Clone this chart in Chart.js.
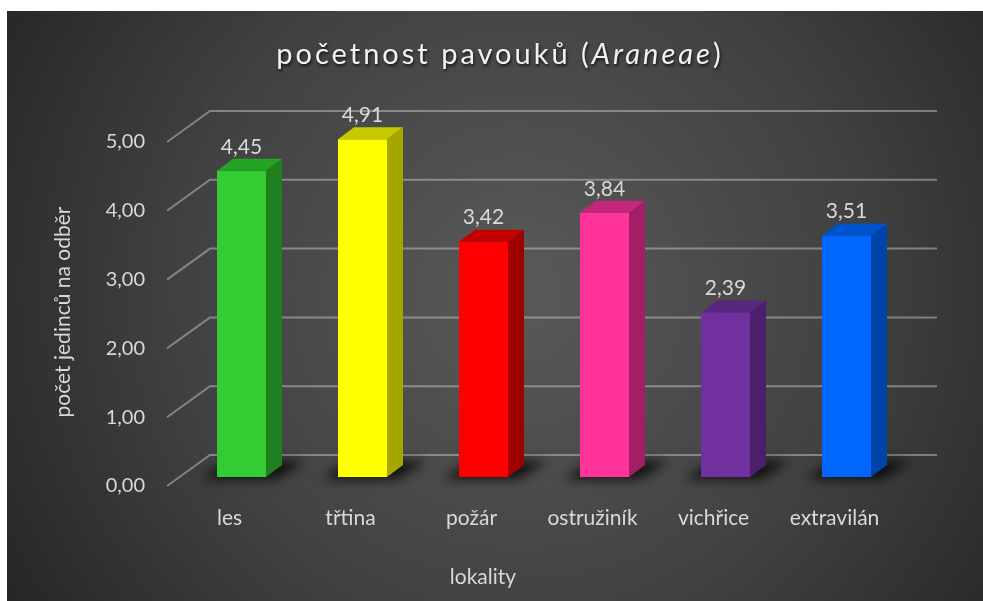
<!DOCTYPE html>
<html>
<head>
<meta charset="utf-8">
<script src="https://cdn.jsdelivr.net/npm/chart.js@4.4.1/dist/chart.umd.min.js"></script>
<style>
    html, body { margin: 0; padding: 0; background: #fff; overflow: hidden; }
    #wrap { position: absolute; left: 0; top: 0; width: 983px; height: 601px; }
</style>
</head>
<body>
<div id="wrap"><canvas id="spiderChart"></canvas></div>
<script>
const CATEGORIES = ['les', 'třtina', 'požár', 'ostružiník', 'vichřice', 'extravilán'];
const VALUES = [4.45, 4.91, 3.42, 3.84, 2.39, 3.51];
const Y_TICKS = [0, 1, 2, 3, 4, 5];
const FRONT_COLORS = ['#33cc33', '#ffff00', '#ff0000', '#ff3399', '#7030a0', '#0066ff'];
const TOP_COLORS = ['#25a325', '#c8c800', '#c40000', '#c4277a', '#592680', '#0052cc'];
const SIDE_COLORS = ['#208020', '#a6a600', '#a00000', '#a21f66', '#4a1f6b', '#0044aa'];

const TEXT_COLOR = '#d9d9d9';
const FONT = 'Lato, "Open Sans", sans-serif';
const DEPTH_X = 16;
const DEPTH_Y = 12;

const fmt = (v) => v.toFixed(2).replace('.', ',');

const look3d = {
    id: 'look3d',
    beforeDraw(chart) {
        const ctx = chart.ctx;
        const w = chart.width, h = chart.height;
        ctx.save();
        ctx.fillStyle = '#ffffff';
        ctx.fillRect(0, 0, w, h);
        const g = ctx.createRadialGradient(520, 290, 20, 520, 290, 600);
        g.addColorStop(0, '#585858');
        g.addColorStop(0.55, '#414141');
        g.addColorStop(1, '#262626');
        ctx.fillStyle = g;
        ctx.fillRect(7, 11, w - 7, h - 11);

        // back wall and side wall grid lines
        const area = chart.chartArea;
        const y = chart.scales.y;
        ctx.strokeStyle = 'rgba(200,200,200,0.5)';
        ctx.lineWidth = 2;
        Y_TICKS.forEach(v => {
            const py = y.getPixelForValue(v);
            ctx.beginPath();
            ctx.moveTo(area.left - 14, py + 9);
            ctx.lineTo(area.left + 29, py - 22);
            ctx.lineTo(area.right + 30, py - 22);
            ctx.stroke();
        });
        ctx.restore();
    },
    beforeDatasetsDraw(chart) {
        const ctx = chart.ctx;
        const meta = chart.getDatasetMeta(0);
        ctx.save();
        ctx.filter = 'blur(6px)';
        ctx.fillStyle = 'rgba(0,0,0,0.8)';
        meta.data.forEach(bar => {
            const x0 = bar.x - bar.width / 2, x1 = bar.x + bar.width / 2, b = bar.base;
            ctx.beginPath();
            ctx.moveTo(x0 - 16, b + 2);
            ctx.lineTo(x1 + 10, b + 2);
            ctx.lineTo(x1 + 40, b - 16);
            ctx.lineTo(x0 + 12, b - 16);
            ctx.closePath();
            ctx.fill();
        });
        ctx.restore();
    },
    afterDatasetsDraw(chart) {
        const ctx = chart.ctx;
        const meta = chart.getDatasetMeta(0);
        ctx.save();
        meta.data.forEach((bar, i) => {
            const x0 = bar.x - bar.width / 2, x1 = bar.x + bar.width / 2;
            const top = bar.y, b = bar.base;
            // side face
            ctx.fillStyle = SIDE_COLORS[i];
            ctx.beginPath();
            ctx.moveTo(x1, top);
            ctx.lineTo(x1 + DEPTH_X, top - DEPTH_Y);
            ctx.lineTo(x1 + DEPTH_X, b - DEPTH_Y);
            ctx.lineTo(x1, b);
            ctx.closePath();
            ctx.fill();
            // top face
            ctx.fillStyle = TOP_COLORS[i];
            ctx.beginPath();
            ctx.moveTo(x0, top);
            ctx.lineTo(x0 + DEPTH_X, top - DEPTH_Y);
            ctx.lineTo(x1 + DEPTH_X, top - DEPTH_Y);
            ctx.lineTo(x1, top);
            ctx.closePath();
            ctx.fill();
            // value label
            ctx.fillStyle = TEXT_COLOR;
            ctx.font = '21px ' + FONT;
            ctx.textAlign = 'center';
            ctx.textBaseline = 'middle';
            ctx.fillText(fmt(VALUES[i]), bar.x, top - 24);
        });
        ctx.restore();
    },
    afterDraw(chart) {
        const ctx = chart.ctx;
        ctx.save();
        // title with italic taxon name
        ctx.fillStyle = '#f2f2f2';
        ctx.textBaseline = 'middle';
        ctx.textAlign = 'left';
        ctx.letterSpacing = '3px';
        ctx.shadowColor = 'rgba(0,0,0,0.7)';
        ctx.shadowBlur = 3;
        ctx.shadowOffsetX = 1;
        ctx.shadowOffsetY = 2;
        const parts = [['početnost pavouků (', ''], ['Araneae', 'italic '], [')', '']];
        let total = 0;
        parts.forEach(p => { ctx.font = p[1] + '29px ' + FONT; total += ctx.measureText(p[0]).width; });
        let x = 500 - total / 2;
        parts.forEach(p => {
            ctx.font = p[1] + '29px ' + FONT;
            ctx.fillText(p[0], x, 55);
            x += ctx.measureText(p[0]).width;
        });
        ctx.restore();

        ctx.save();
        ctx.fillStyle = TEXT_COLOR;
        ctx.font = '21px ' + FONT;
        ctx.textAlign = 'center';
        ctx.textBaseline = 'middle';
        ctx.fillText('lokality', 483, 577);
        ctx.translate(63, 312);
        ctx.rotate(-Math.PI / 2);
        ctx.fillText('počet jedinců na odběr', 0, 0);
        ctx.restore();
    }
};

const chart = new Chart(document.getElementById('spiderChart'), {
    type: 'bar',
    data: {
        labels: CATEGORIES,
        datasets: [{
            data: VALUES,
            backgroundColor: FRONT_COLORS,
            borderWidth: 0,
            barPercentage: 49 / 121,
            categoryPercentage: 1
        }]
    },
    options: {
        responsive: true,
        maintainAspectRatio: false,
        animation: false,
        layout: {
            padding: { top: 133, right: 76, bottom: 0, left: 0 }
        },
        scales: {
            x: {
                grid: { display: false, drawTicks: false },
                border: { display: false },
                ticks: {
                    color: TEXT_COLOR,
                    font: { family: FONT, size: 21 },
                    padding: 29,
                    labelOffset: -12,
                    maxRotation: 0,
                    autoSkip: false
                },
                afterFit(scale) { scale.height = 124; }
            },
            y: {
                min: 0,
                max: 5,
                grid: { display: false, drawTicks: false },
                border: { display: false },
                ticks: {
                    stepSize: 1,
                    color: TEXT_COLOR,
                    font: { family: FONT, size: 20 },
                    padding: 36,
                    labelOffset: 9,
                    callback: (v) => fmt(v)
                },
                afterFit(scale) { scale.width = 181; }
            }
        },
        plugins: {
            legend: { display: false },
            tooltip: { enabled: false }
        }
    },
    plugins: [look3d]
});
</script>
</body>
</html>
